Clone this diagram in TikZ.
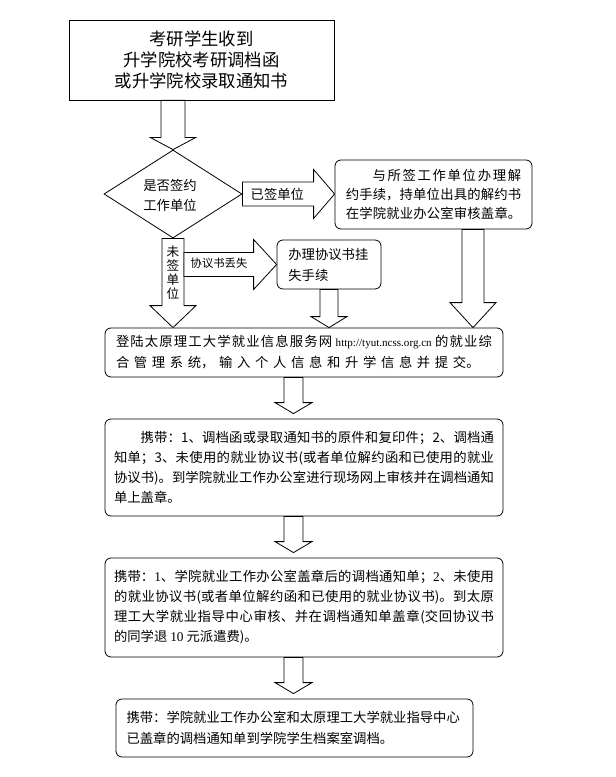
\documentclass[tikz,border=0pt]{standalone}
\usepackage{fontspec}
\setmainfont{Noto Sans CJK SC}
\newfontfamily\latfont{Liberation Serif}
\usetikzlibrary{shapes.geometric,calc}
\XeTeXlinebreaklocale "zh"
\XeTeXlinebreakskip=0pt plus 3pt
\newcommand\lat[1]{{\latfont #1}}
\newcommand\blkdown[5]{%
  \draw[blk] ($(#1)+(-#3,0)$) -- ($(#2)+(-#3,-#5)$) -- ($(#2)+(-#4,-#5)$) -- (#2)
    -- ($(#2)+(#4,-#5)$) -- ($(#2)+(#3,-#5)$) -- ($(#1)+(#3,0)$) -- cycle;}
\newcommand\blkright[5]{%
  \draw[blk] ($(#1)+(0,-#3)$) -- ($(#2)+(-#5,-#3)$) -- ($(#2)+(-#5,-#4)$) -- (#2)
    -- ($(#2)+(-#5,#4)$) -- ($(#2)+(-#5,#3)$) -- ($(#1)+(0,#3)$) -- cycle;}
\newcommand\jpar[3]{\parbox{#1}{\tolerance=10000\hbadness=10000\parindent=0pt\leftskip=0pt\rightskip=0pt\parfillskip=#2\relax #3}}
\begin{document}
\begin{tikzpicture}[x=0.75pt,y=-0.75pt,
  every node/.style={inner sep=0pt,font=\fontsize{10}{15}\selectfont},
  sbox/.style={draw,line width=0.6pt},
  rbox/.style={draw,line width=0.6pt,rounded corners=4.5pt},
  blk/.style={draw,line width=0.6pt,fill=white,line join=miter}]
\useasboundingbox (0,0) rectangle (616,777);

% nodes
\node[sbox,minimum width=198.75pt,minimum height=60pt,align=center,
  font=\fontsize{13}{15.75}\selectfont] (top) at (201.5,60)
  {考研学生收到\\升学院校考研调档函\\或升学院校录取通知书};
\node[diamond,draw,line width=0.6pt,minimum width=103.5pt,minimum height=66pt,
  aspect=1.568,align=center] (dia) at (173,194) {};
\node[align=center,font=\fontsize{10}{15}\selectfont] (diat) at (170,195) {是否签约\\工作单位};
\node[rbox,minimum width=147.75pt,minimum height=51.75pt,
  font=\fontsize{10}{14.25}\selectfont] (rb) at (433.5,194.5)
  {\jpar{131.5pt}{0pt}{\hspace*{2em}与所签工作单位办理解\linebreak 约手续，持单位出具的解约书\linebreak 在学院就业办公室审核盖章。}};
\node[rbox,minimum width=78pt,minimum height=36.75pt,
  font=\fontsize{10}{15.75}\selectfont] (lost) at (329,264.5)
  {\parbox{61pt}{\raggedright 办理协议书挂\\失手续}};
\node[rbox,minimum width=298.5pt,minimum height=36.75pt,
  font=\fontsize{10}{15.75}\selectfont] (b2) at (304,352.5)
  {\jpar{282pt}{0pt plus 8pt}{登陆太原理工大学就业信息服务网 \mbox{\latfont\fontsize{8.3}{10}\selectfont http://tyut.ncss.org.cn} 的就业综\linebreak 合管理系统，输入个人信息和升学信息并提交。}};
\node[rbox,minimum width=298.5pt,minimum height=72.75pt,
  font=\fontsize{10}{15}\selectfont] (b3) at (304,467.5)
  {\jpar{285pt}{0pt plus 1fil}{\hspace*{2em}携带：1、调档函或录取通知书的原件和复印件；2、调档通\linebreak
  知单；3、未使用的就业协议书(或者单位解约函和已使用的就业\linebreak
  协议书)。到学院就业工作办公室进行现场网上审核并在调档通知\linebreak
  单上盖章。}};
\node[rbox,minimum width=298.5pt,minimum height=74.25pt,
  font=\fontsize{10}{15}\selectfont] (b4) at (304,607.5)
  {\jpar{285pt}{0pt plus 1fil}{携带：\lat{1}、学院就业工作办公室盖章后的调档通知单；\lat{2}、未使用\linebreak
  的就业协议书(或者单位解约函和已使用的就业协议书)。到太原\linebreak
  理工大学就业指导中心审核、并在调档通知单盖章(交回协议书\linebreak
  的同学退 \lat{10} 元派遣费)。}};
\node[rbox,minimum width=267.75pt,minimum height=43.5pt,
  font=\fontsize{10}{15.75}\selectfont] (b5) at (294.5,728)
  {\parbox{252pt}{\raggedright 携带：学院就业工作办公室和太原理工大学就业指导中心\\已盖章的调档通知单到学院学生档案室调档。}};

% connector coordinates
\coordinate (a1s) at (dia.north |- top.south);
\coordinate (a2t) at (rb.west |- dia.east);
\coordinate (a3t) at (dia.south |- b2.north);
\coordinate (a4s) at ($(dia.south |- lost.west)+(11,0)$);
\coordinate (a5t) at (lost.south |- b2.north);
\coordinate (a6s) at ($(rb.south)+(39.5,0)$);
\coordinate (a6t) at (a6s |- b2.north);
\coordinate (a7s) at ($(b2.south)+(-10.5,0)$);
\coordinate (a7t) at ($(a7s |- b3.north)+(0,-5)$);
\coordinate (a8s) at ($(b3.south)+(-10.5,0)$);
\coordinate (a8t) at ($(a8s |- b4.north)+(0,-5)$);
\coordinate (a9s) at ($(b4.south)+(-10.5,0)$);
\coordinate (a9t) at ($(a9s |- b5.north)+(0,-5)$);

% block arrows
\blkdown{a1s}{dia.north}{12}{22.5}{12}
\blkright{dia.east}{a2t}{12}{24.5}{21}
\blkdown{dia.south}{a3t}{11}{23}{22}
\blkright{a4s}{lost.west}{12}{25}{23}
\blkdown{lost.south}{a5t}{9}{18}{11}
\blkdown{a6s}{a6t}{11}{23}{25}
\blkdown{a7s}{a7t}{9.5}{18.5}{11}
\blkdown{a8s}{a8t}{9.5}{18.5}{11}
\blkdown{a9s}{a9t}{9.5}{18.5}{11}

% arrow labels
\node (l2) at ($(dia.east)+(35,0)$) {已签单位};
\node[align=center,font=\fontsize{9.5}{10.5}\selectfont] (l3) at ($(dia.south)+(0,34)$) {未\\签\\单\\位};
\node[font=\fontsize{8.5}{10}\selectfont] (l4) at ($(a4s)+(35,-1)$) {协议书丢失};
\end{tikzpicture}
\end{document}
